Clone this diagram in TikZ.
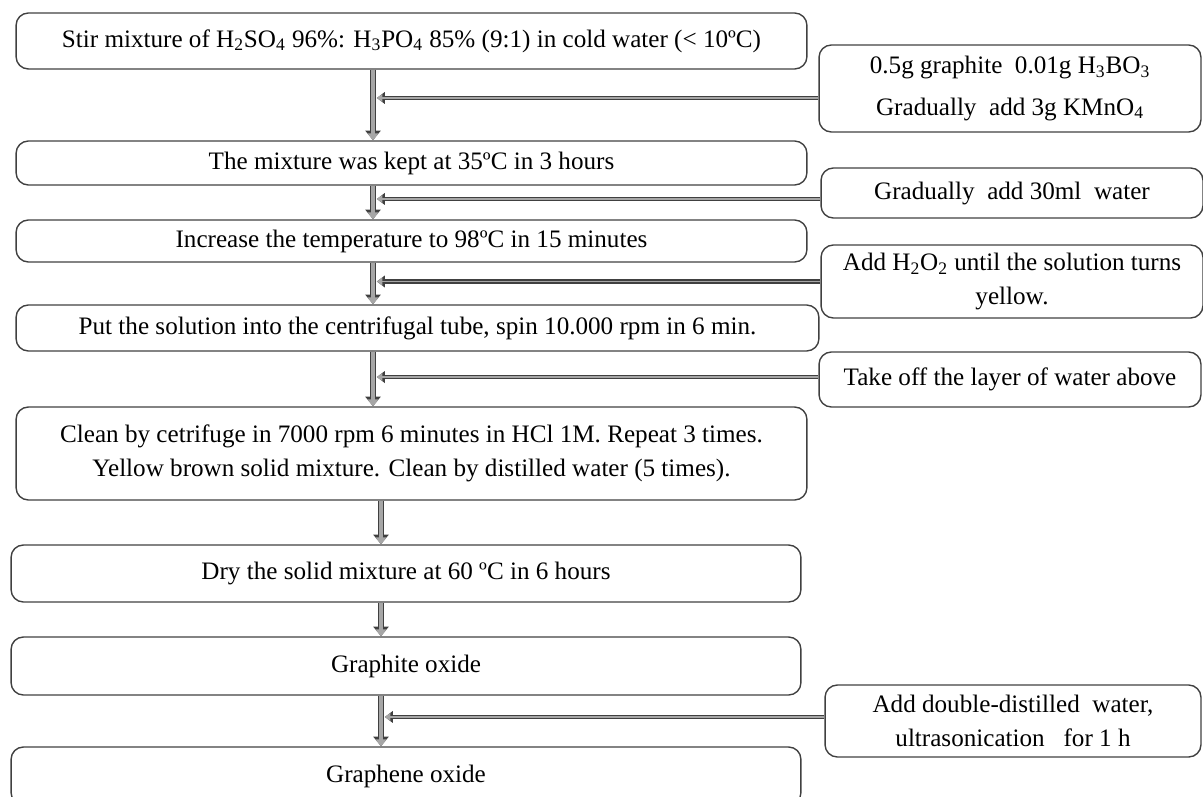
\documentclass[tikz,border=0pt]{standalone}
\usepackage{fontspec}
\setmainfont{Liberation Serif}
\usetikzlibrary{arrows.meta}
\tikzset{
  stepbox/.style={draw=black!75, line width=0.8pt, rounded corners=7pt, inner sep=0pt, align=center},
  flow/.style={draw=gray!70, line width=1.8pt, -{Triangle[width=6pt,length=4pt]},
    preaction={draw=black!75, line width=3.4pt, -{Triangle[width=8.5pt,length=5.5pt]}}},
  feed/.style={draw=gray!70, line width=1pt, shorten >=2.2pt, -{Triangle[width=4.5pt,length=3.2pt]},
    preaction={draw=black!75, line width=2.5pt, -{Triangle[width=6.5pt,length=4.5pt]}}}
}
\begin{document}
\begin{tikzpicture}[x=0.02cm, y=-0.02cm, font=\fontsize{14.3}{19.5}\selectfont]
  \useasboundingbox (0,0) rectangle (1203,797);
  \clip (0,0) rectangle (1203,797);
  \coordinate (c1) at (373,0);
  \coordinate (c2) at (381,0);

  \node [stepbox, minimum width=15.82cm, minimum height=1.12cm] (s1) at (411.5,41)
    {Stir mixture of H\textsubscript{2}SO\textsubscript{4} 96\%: H\textsubscript{3}PO\textsubscript{4} 85\% (9:1) in cold water (< 10ºC)};
  \node [stepbox, minimum width=15.82cm, minimum height=0.88cm] (s2) at (411.5,163)
    {The mixture was kept at 35ºC in 3 hours};
  \node [stepbox, minimum width=15.82cm, minimum height=0.84cm] (s3) at (411.5,241)
    {Increase the temperature to 98ºC in 15 minutes};
  \node [stepbox, minimum width=16.06cm, minimum height=0.92cm] (s4) at (417.5,328)
    {Put the solution into the centrifugal tube, spin 10.000 rpm in 6 min.};
  \node [stepbox, minimum width=15.82cm, minimum height=1.86cm] (s5) at (411.5,453.5)
    {Clean by cetrifuge in 7000 rpm 6 minutes in HCl 1M. Repeat 3 times.\\
     Yellow brown solid mixture. Clean by distilled water (5 times).};
  \node [stepbox, minimum width=15.8cm, minimum height=1.14cm] (s6) at (406,573.5)
    {Dry the solid mixture at 60 ºC in 6 hours};
  \node [stepbox, minimum width=15.8cm, minimum height=1.16cm] (s7) at (406,666)
    {Graphite oxide};
  \node [stepbox, minimum width=15.8cm, minimum height=1.16cm] (s8) at (406,776)
    {Graphene oxide};

  \node [stepbox, minimum width=7.64cm, minimum height=1.74cm] (a1) at (1010,88.5)
    {0.5g graphite~ 0.01g H\textsubscript{3}BO\textsubscript{3}\\[4pt]
     Gradually~ add 3g KMnO\textsubscript{4}};
  \node [stepbox, minimum width=7.64cm, minimum height=1cm] (a2) at (1012,193)
    {Gradually~ add 30ml~ water};
  \node [stepbox, minimum width=7.64cm, minimum height=1.46cm] (a3) at (1012,281.5)
    {Add H\textsubscript{2}O\textsubscript{2} until the solution turns\\ yellow.};
  \node [stepbox, minimum width=7.64cm, minimum height=1.1cm] (a4) at (1010,379.5)
    {Take off the layer of water above};
  \node [stepbox, minimum width=7.52cm, minimum height=1.44cm] (a5) at (1013,721)
    {Add double-distilled~ water,\\ ultrasonication~~ for 1 h};

  \draw [flow] (s1.south -| c1) -- (s2.north -| c1);
  \draw [flow] (s2.south -| c1) -- (s3.north -| c1);
  \draw [flow] (s3.south -| c1) -- (s4.north -| c1);
  \draw [flow] (s4.south -| c1) -- (s5.north -| c1);
  \draw [flow] (s5.south -| c2) -- (s6.north -| c2);
  \draw [flow] (s6.south -| c2) -- (s7.north -| c2);
  \draw [flow] (s7.south -| c2) -- (s8.north -| c2);

  \draw [feed] ([yshift=-5.4pt]a1.west) -- ([yshift=-5.4pt]a1.west -| c1);
  \draw [feed] ([yshift=-3.4pt]a2.west) -- ([yshift=-3.4pt]a2.west -| c1);
  \draw [feed] (a3.west) -- (a3.west -| c1);
  \draw [feed] ([yshift=1.4pt]a4.west) -- ([yshift=1.4pt]a4.west -| c1);
  \draw [feed] ([yshift=2.3pt]a5.west) -- ([yshift=2.3pt]a5.west -| c2);
\end{tikzpicture}
\end{document}
